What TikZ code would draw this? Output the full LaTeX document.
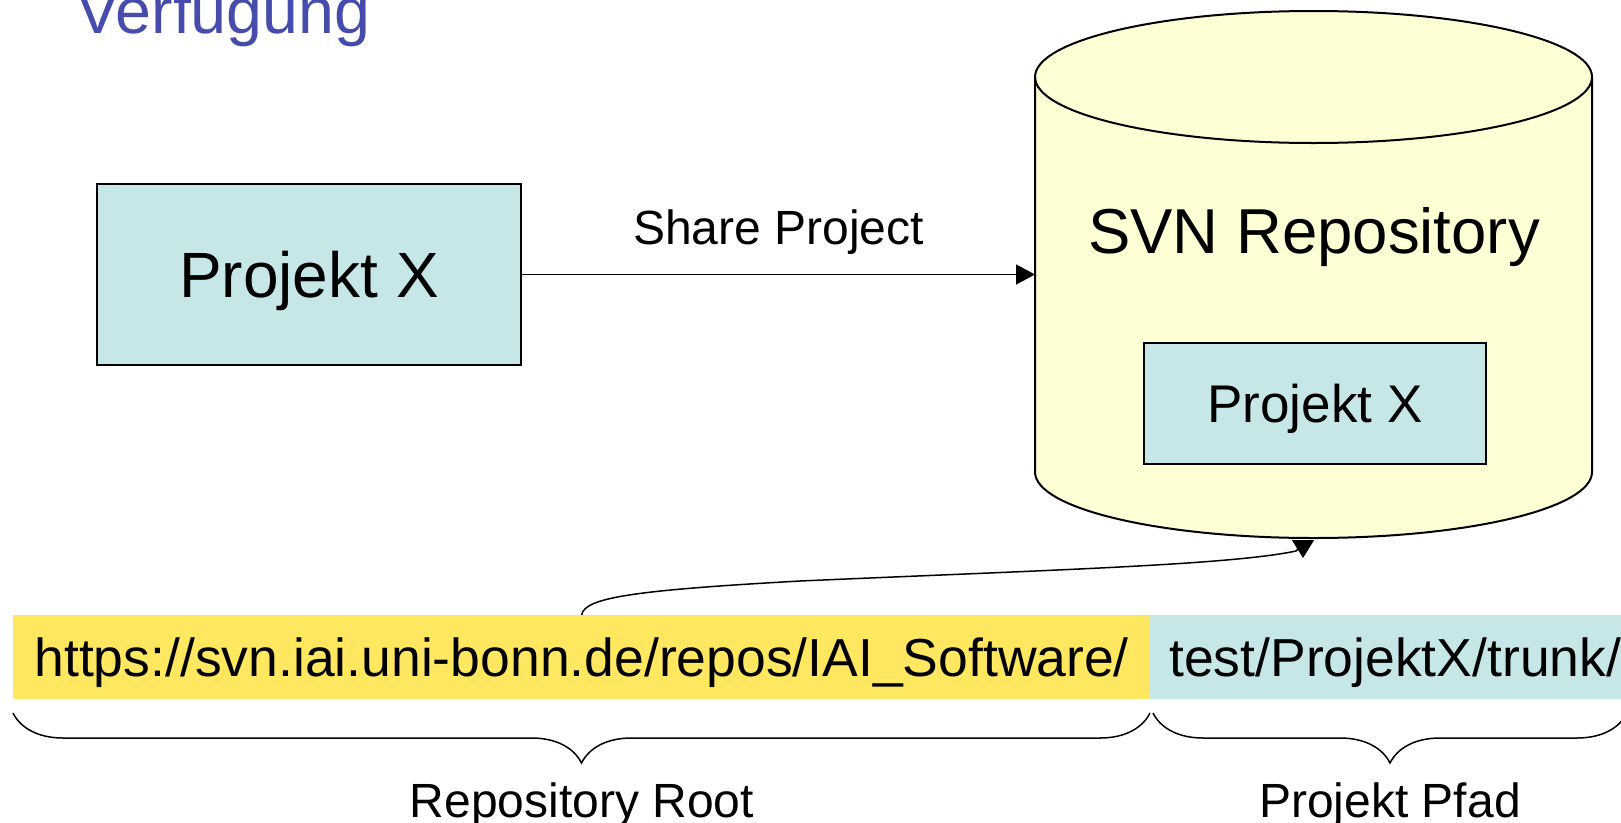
\documentclass[tikz,border=0pt]{standalone}
\usepackage{fontspec}
\setmainfont{Liberation Sans}
\usetikzlibrary{arrows.meta,positioning,decorations.pathreplacing}
\definecolor{boxcyan}{RGB}{198,230,232}
\definecolor{urlyellow}{RGB}{255,232,96}
\definecolor{repoyellow}{RGB}{255,255,214}
\definecolor{titleblue}{RGB}{70,76,172}
\begin{document}
\begin{tikzpicture}[x=1pt, y=-1pt,
      box/.style={draw, line width=2pt, fill=boxcyan, inner sep=0pt, text depth=0pt},
      band/.style={inner sep=0pt, anchor=north west, minimum height=84pt,
                   font=\fontsize{53.5}{60}\selectfont, text height=38pt, text depth=0pt},
      lbl/.style={font=\fontsize{48}{56}\selectfont, inner sep=0pt},
      arr/.style={-{Triangle[length=19pt, width=20pt]}, line width=1.5pt},
      brc/.style={decorate, decoration={brace, mirror, amplitude=50pt}, line width=1.5pt}]
    \useasboundingbox (0,0) rectangle (1621,822);
    % title line, cut off at the top
    \node[font=\fontsize{64.5}{70}\selectfont, text=titleblue, anchor=base west, inner sep=0pt]
      (title) at (76,33) {Verfügung};
    % the repository cylinder
    \filldraw[fill=repoyellow, line width=2pt] (1035,77) -- (1035,472)
      arc[start angle=180, end angle=0, x radius=278.5, y radius=66] -- (1592,77)
      arc[start angle=0, end angle=-180, x radius=278.5, y radius=66] -- cycle;
    \draw[line width=2pt] (1035,77) arc[start angle=180, end angle=0, x radius=278.5, y radius=66];
    \node[font=\fontsize{63.5}{70}\selectfont, anchor=base, inner sep=0pt] (repo) at (1314,253) {SVN Repository};
    \coordinate (repoleft) at (1035,274.5);
    \coordinate (repobot) at (1303,558);
    \node[box, minimum width=342pt, minimum height=121pt, font=\fontsize{53}{60}\selectfont,
          text height=38pt] (projin) at (1315,403.5) {Projekt X};
    % local project
    \node[box, minimum width=424pt, minimum height=181pt, font=\fontsize{64}{70}\selectfont,
          text height=46pt] (projx) at (309,274.5) {Projekt X};
    \draw[arr] (projx) -- node[lbl, above=19pt] {Share Project} (repoleft);
    % url split in root and path
    \node[band, fill=urlyellow, minimum width=1137pt] (root) at (13,615)
      {https://svn.iai.uni-bonn.de/repos/IAI\_Software/};
    \node[band, fill=boxcyan, minimum width=490pt] (path) at (1150,615) {test/ProjektX/trunk/};
    \draw[arr, -{Triangle[length=18pt, width=22pt]}] (root.north)
      .. controls +(2,-18) and (640,590) .. (800,581)
      .. controls (1050,570) and (1230,565) .. (1296,551) -- (1303,544) -- (repobot);
    \draw[brc] (13,713) -- (1150,713);
    \draw[brc] (1153,713) -- (1627,713);
    \node[lbl, anchor=base] (rootlbl) at (582,817) {Repository Root};
    \node[lbl, anchor=base] (pathlbl) at (1390,817) {Projekt Pfad};
  \end{tikzpicture}
\end{document}
